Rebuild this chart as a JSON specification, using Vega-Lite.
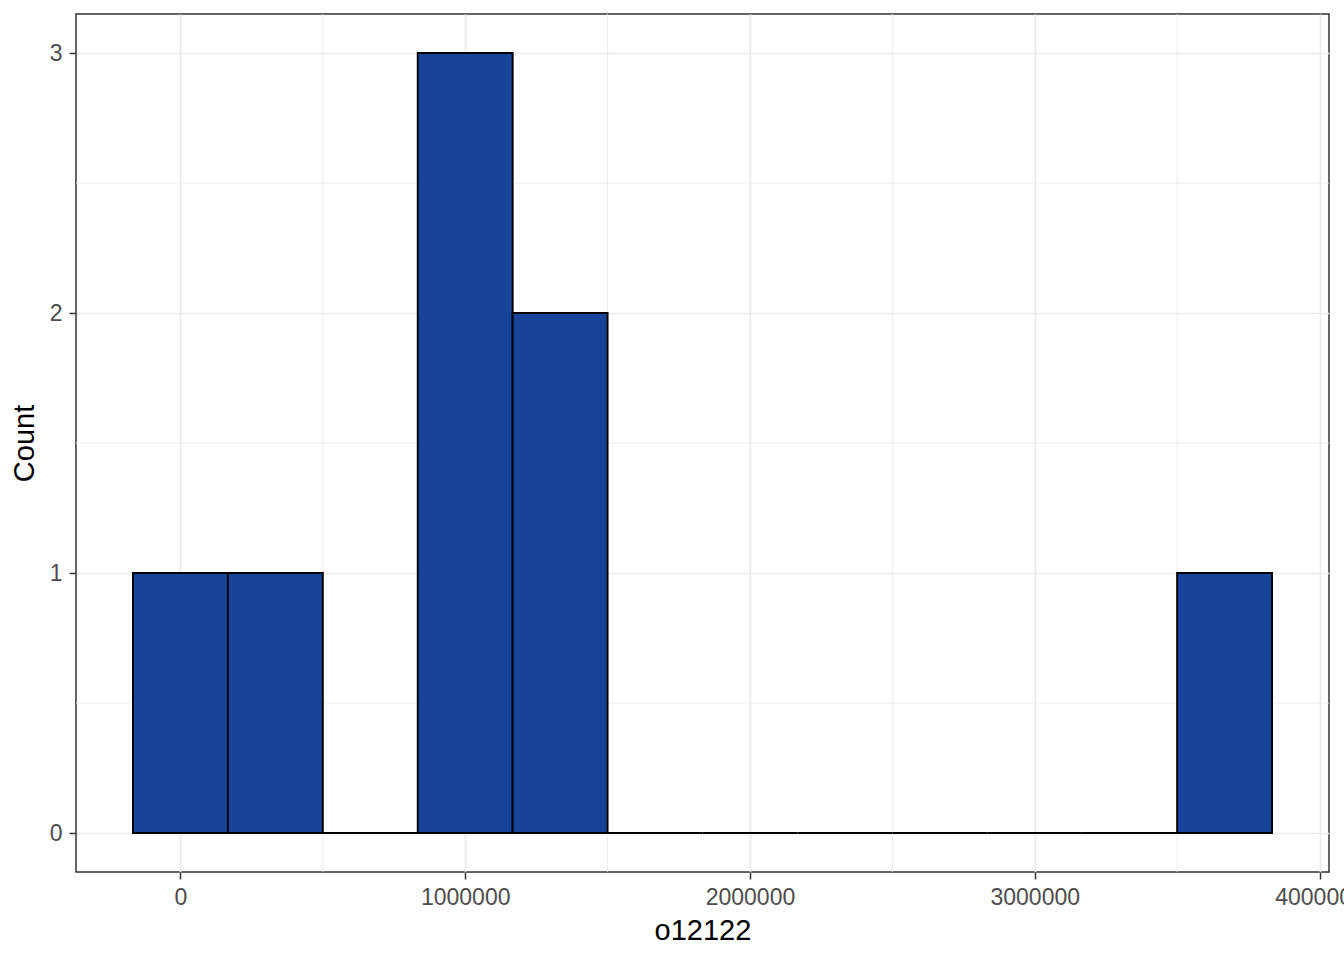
{
  "$schema": "https://vega.github.io/schema/vega-lite/v6.json",
  "width": 1253,
  "height": 858,
  "autosize": "none",
  "padding": {"left": 76, "top": 14, "right": 15, "bottom": 88},
  "background": "white",
  "config": {
    "view": {"stroke": "#333333", "strokeWidth": 1.5},
    "axis": {
      "labelFont": "Liberation Sans",
      "titleFont": "Liberation Sans",
      "labelFontSize": 23,
      "titleFontSize": 29,
      "labelColor": "#4D4D4D",
      "titleColor": "#000000",
      "titleFontWeight": "normal",
      "tickColor": "#333333",
      "tickSize": 7,
      "tickWidth": 1.5,
      "domain": false,
      "gridColor": "#EBEBEB",
      "gridWidth": 1.7,
      "labelOverlap": false,
      "labelFlush": false
    }
  },
  "layer": [
    {
      "data": {"values": [{"v": 500000}, {"v": 1500000}, {"v": 2500000}, {"v": 3500000}]},
      "mark": {"type": "rule", "color": "#EBEBEB", "strokeWidth": 0.9},
      "encoding": {
        "x": {
          "field": "v", "type": "quantitative",
          "scale": {"domain": [-366667, 4033333], "nice": false, "zero": false},
          "axis": {"title": "o12122", "values": [0, 1000000, 2000000, 3000000, 4000000], "format": "d", "grid": true, "labelPadding": 7, "titlePadding": 7}
        }
      }
    },
    {
      "data": {"values": [{"w": 0.5}, {"w": 1.5}, {"w": 2.5}]},
      "mark": {"type": "rule", "color": "#EBEBEB", "strokeWidth": 0.9},
      "encoding": {
        "y": {
          "field": "w", "type": "quantitative",
          "scale": {"domain": [-0.15, 3.15], "nice": false, "zero": false},
          "axis": {"title": "Count", "values": [0, 1, 2, 3], "format": "d", "grid": true, "labelPadding": 7, "titlePadding": 10}
        }
      }
    },
    {
      "data": {
        "values": [
          {"start": -166667, "end": 166667, "count": 1},
          {"start": 166667, "end": 500000, "count": 1},
          {"start": 500000, "end": 833333, "count": 0},
          {"start": 833333, "end": 1166667, "count": 3},
          {"start": 1166667, "end": 1500000, "count": 2},
          {"start": 1500000, "end": 1833333, "count": 0},
          {"start": 1833333, "end": 2166667, "count": 0},
          {"start": 2166667, "end": 2500000, "count": 0},
          {"start": 2500000, "end": 2833333, "count": 0},
          {"start": 2833333, "end": 3166667, "count": 0},
          {"start": 3166667, "end": 3500000, "count": 0},
          {"start": 3500000, "end": 3833333, "count": 1}
        ]
      },
      "mark": {"type": "bar", "fill": "#174499", "stroke": "#000000", "strokeWidth": 1.9},
      "encoding": {
        "x": {
          "field": "start", "type": "quantitative",
          "scale": {"domain": [-366667, 4033333], "nice": false, "zero": false},
          "axis": {"title": "o12122", "values": [0, 1000000, 2000000, 3000000, 4000000], "format": "d", "grid": true, "labelPadding": 7, "titlePadding": 7}
        },
        "x2": {"field": "end"},
        "y": {
          "field": "count", "type": "quantitative",
          "scale": {"domain": [-0.15, 3.15], "nice": false, "zero": false},
          "axis": {"title": "Count", "values": [0, 1, 2, 3], "format": "d", "grid": true, "labelPadding": 7, "titlePadding": 10}
        },
        "y2": {"datum": 0}
      }
    }
  ]
}
